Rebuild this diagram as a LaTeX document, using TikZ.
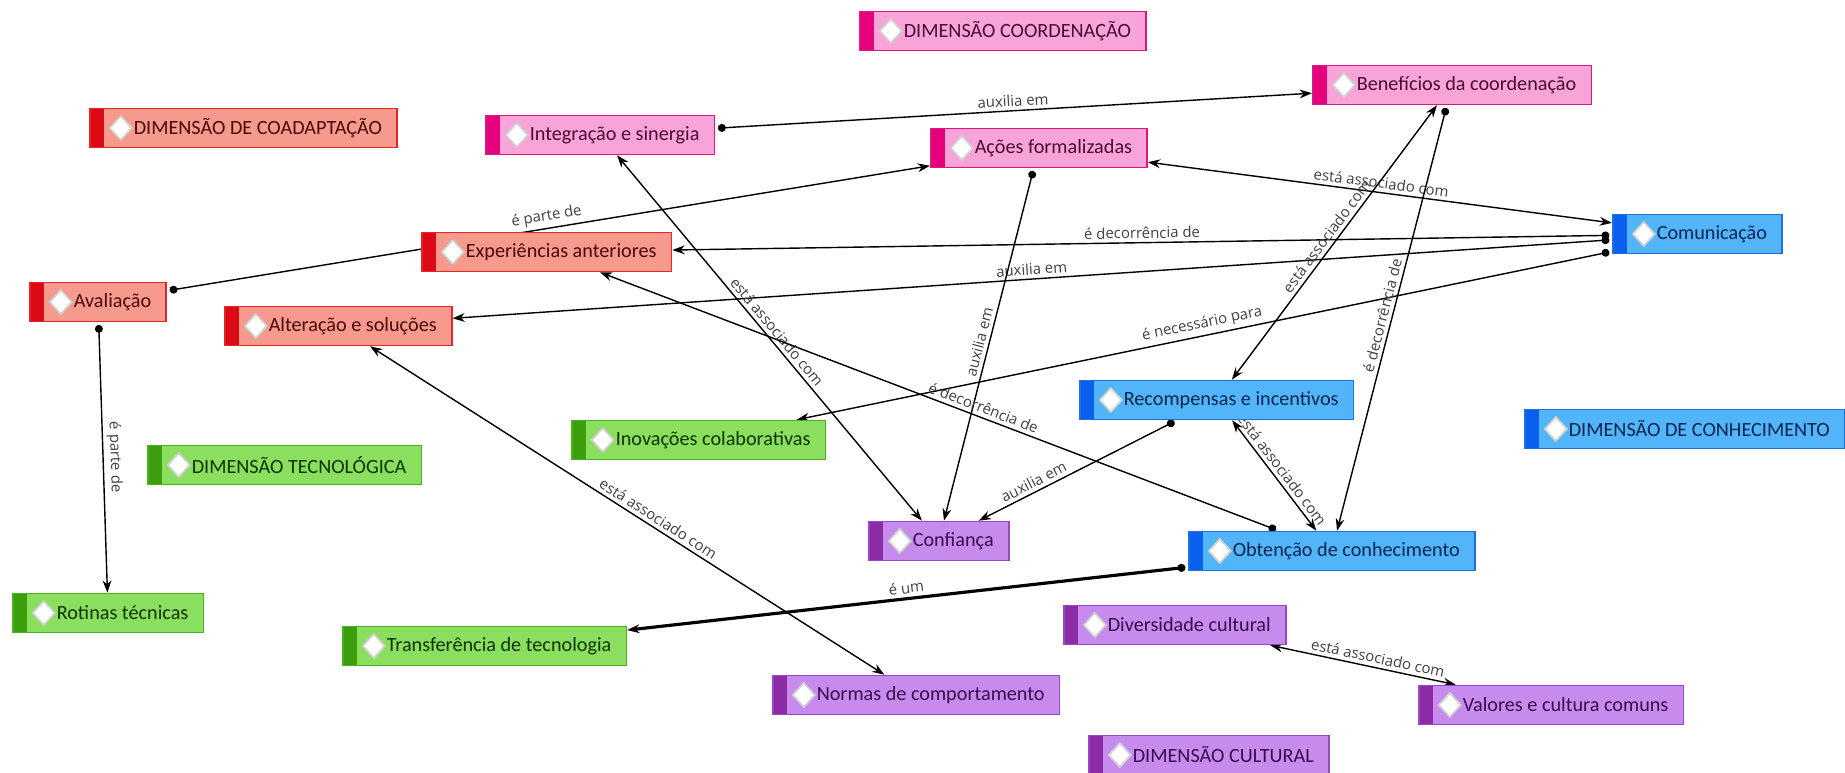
\documentclass[tikz,border=0pt]{standalone}
\usepackage{fontspec}
\setmainfont{Carlito}
\newfontfamily\linkfont{Open Sans}
\usetikzlibrary{arrows.meta,backgrounds}
\definecolor{coadfill}{HTML}{F59A8D}
\definecolor{coadline}{HTML}{E3262B}
\definecolor{coadstrip}{HTML}{DC0A14}
\definecolor{coadtext}{HTML}{4A0808}
\definecolor{coorfill}{HTML}{F8A4D8}
\definecolor{coorline}{HTML}{D9197F}
\definecolor{coorstrip}{HTML}{E6007E}
\definecolor{coortext}{HTML}{4A0A35}
\definecolor{conhfill}{HTML}{52B4F9}
\definecolor{conhline}{HTML}{1E6FE0}
\definecolor{conhstrip}{HTML}{0A5FEF}
\definecolor{conhtext}{HTML}{0A2550}
\definecolor{tecfill}{HTML}{8ADF5E}
\definecolor{tecline}{HTML}{4DAE1F}
\definecolor{tecstrip}{HTML}{3D9E0B}
\definecolor{tectext}{HTML}{0E3300}
\definecolor{cultfill}{HTML}{C78BEE}
\definecolor{cultline}{HTML}{9A47C2}
\definecolor{cultstrip}{HTML}{8B2CA6}
\definecolor{culttext}{HTML}{3A0A4C}
\begin{document}
\begin{tikzpicture}[x=0.02cm,y=-0.02cm,
  concept/.style n args={4}{rectangle, draw=#2, fill=#1, text=#4, line width=0.9pt,
    minimum height=0.78cm, inner xsep=0.3cm, inner ysep=0pt, anchor=west,
    font=\fontsize{11.5}{13}\selectfont, execute at begin node={\hspace*{0.58cm}},
    path picture={
      \fill[#3] (path picture bounding box.south west) rectangle ([xshift=0.28cm]path picture bounding box.north west);
      \filldraw[fill=white, draw=black!18, line width=1pt] ([xshift=0.4cm]path picture bounding box.west)
        -- ++(0.22cm,0.24cm) -- ++(0.22cm,-0.24cm) -- ++(-0.22cm,-0.24cm) -- cycle;}},
  coad/.style={concept={coadfill}{coadline}{coadstrip}{coadtext}},
  coor/.style={concept={coorfill}{coorline}{coorstrip}{coortext}},
  conh/.style={concept={conhfill}{conhline}{conhstrip}{conhtext}},
  tec/.style={concept={tecfill}{tecline}{tecstrip}{tectext}},
  cult/.style={concept={cultfill}{cultline}{cultstrip}{culttext}},
  cmlink/.style={line width=0.8pt, {Circle[length=4.5pt]}-{Stealth[length=7pt,width=5pt]}, shorten <=1.5pt},
  cmboth/.style={line width=0.8pt, {Stealth[length=7pt,width=5pt]}-{Stealth[length=7pt,width=5pt]}},
  lbl/.style={sloped, above, inner sep=2pt, font=\linkfont\fontsize{8.5}{10}\selectfont, text=black!75}]
\useasboundingbox (0,0) rectangle (1845,773);
\node[coor] (dimcoord) at (859,31) {DIMENSÃO COORDENAÇÃO};
\node[coor] (benef) at (1312,85) {Benefícios da coordenação};
\node[coad] (dimcoad) at (89,128) {DIMENSÃO DE COADAPTAÇÃO};
\node[coor] (integ) at (485,135) {Integração e sinergia};
\node[coor] (acoes) at (930,148) {Ações formalizadas};
\node[conh] (comun) at (1612,234) {Comunicação};
\node[coad] (exper) at (421,252) {Experiências anteriores};
\node[coad] (aval) at (29,302) {Avaliação};
\node[coad] (alter) at (224,326) {Alteração e soluções};
\node[conh] (recomp) at (1079,400) {Recompensas e incentivos};
\node[conh] (dimconh) at (1524,429) {DIMENSÃO DE CONHECIMENTO};
\node[tec] (inov) at (571,440) {Inovações colaborativas};
\node[tec] (dimtec) at (147,465) {DIMENSÃO TECNOLÓGICA};
\node[cult] (conf) at (868,541) {Confiança};
\node[conh] (obten) at (1188,551) {Obtenção de conhecimento};
\node[tec] (rotinas) at (12,613) {Rotinas técnicas};
\node[cult] (divers) at (1063,625) {Diversidade cultural};
\node[tec] (transf) at (342,646) {Transferência de tecnologia};
\node[cult] (normas) at (772,695) {Normas de comportamento};
\node[cult] (valores) at (1418,705) {Valores e cultura comuns};
\node[cult] (dimcult) at (1088,755) {DIMENSÃO CULTURAL};
\begin{scope}[on background layer]
\draw[cmlink] (integ) -- node[lbl] {auxilia em} (benef);
\draw[cmlink] (aval) -- node[lbl] {é parte de} (acoes);
\draw[cmboth] (acoes) -- node[lbl] {está associado com} (comun);
\draw[cmlink] (comun) -- node[lbl] {é decorrência de} (exper);
\draw[cmlink] (comun) -- node[lbl] {auxilia em} (alter);
\draw[cmlink] (comun) -- node[lbl] {é necessário para} (inov);
\draw[cmboth] (benef) -- node[lbl] {está associado com} (recomp);
\draw[cmlink] (benef) -- node[lbl] {é decorrência de} (obten);
\draw[cmlink] (acoes) -- node[lbl] {auxilia em} (conf);
\draw[cmboth] (integ) -- node[lbl] {está associado com} (conf);
\draw[cmlink] (obten) -- node[lbl, pos=0.44] {é decorrência de} (exper);
\draw[cmlink] (recomp) -- node[lbl, pos=0.7] {auxilia em} (conf);
\draw[cmboth] (recomp) -- node[lbl] {está associado com} (obten);
\draw[cmlink, line width=1.8pt] (obten) -- node[lbl] {é um} (transf);
\draw[cmboth] (alter) -- node[lbl, pos=0.55] {está associado com} (normas);
\draw[cmlink] (aval) -- node[lbl] {é parte de} (rotinas);
\draw[cmboth] (divers) -- node[lbl, pos=0.57] {está associado com} (valores);
\end{scope}
\end{tikzpicture}
\end{document}
